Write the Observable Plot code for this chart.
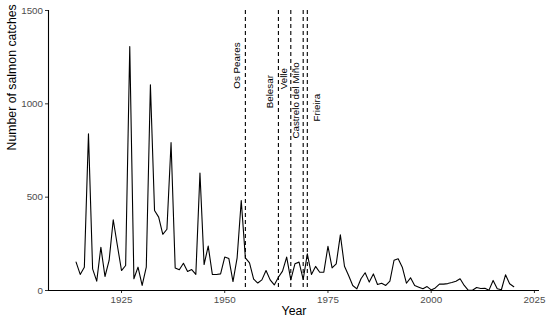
<!DOCTYPE html>
<html>
<head>
<meta charset="utf-8">
<script src="https://cdn.jsdelivr.net/npm/d3@7"></script>
<script src="https://cdn.jsdelivr.net/npm/@observablehq/plot@0.6"></script>
<style>
  html, body { margin: 0; padding: 0; background: #fff; }
  #chart { width: 550px; height: 322px; }
</style>
</head>
<body>
<div id="chart"></div>
<script>
const years = d3.range(1914, 2021);
const catches = [
  152, 86, 125, 839, 116, 50, 232, 75, 161, 379,
  241, 107, 134, 1307, 63, 125, 27, 125, 1102, 429,
  393, 301, 328, 792, 121, 111, 146, 102, 112, 86,
  629, 139, 238, 86, 86, 89, 179, 171, 48, 175,
  482, 175, 148, 61, 40, 57, 107, 57, 30, 71,
  104, 179, 57, 143, 152, 59, 196, 86, 129, 98,
  98, 237, 121, 143, 298, 130, 80, 27, 9, 63,
  95, 45, 89, 32, 39, 27, 50, 162, 170, 125,
  39, 68, 27, 18, 9, 21, 3, 14, 34, 34,
  37, 43, 50, 63, 27, 1, 1, 16, 11, 12,
  2, 54, 9, 4, 84, 36, 20
];
const damNames = ["Os Peares", "Belesar", "Velle", "Castrelo del Miño", "Frieira"];
const damYears = [1955, 1963, 1966, 1969, 1970];
const labelYears = [1953, 1961, 1964.3, 1967.2, 1972.2];
const labelValues = [1205, 1065, 1135, 1018, 980];
const xTicks = [1925, 1950, 1975, 2000, 2025];
const yTicks = [0, 500, 1000, 1500];

const series = years.map((y, i) => ({year: y, catches: catches[i]}));
const dams = damNames.map((n, i) => ({name: n, year: damYears[i], lx: labelYears[i], ly: labelValues[i]}));

const font = "'Liberation Sans', Arial, Helvetica, sans-serif";
const chart = Plot.plot({
  width: 550,
  height: 322,
  marginLeft: 48,
  marginRight: 11,
  marginTop: 10,
  marginBottom: 32,
  style: {fontFamily: font, background: "#fff", overflow: "visible"},
  x: {domain: [1907.32, 2026.23]},
  y: {domain: [0, 1500]},
  marks: [
    Plot.axisX({ticks: xTicks, tickFormat: d => String(d), tickSize: 3, tickPadding: 2.5, fontSize: 9.8, fill: "#4D4D4D", stroke: "#333", label: null}),
    Plot.axisY({ticks: yTicks, tickFormat: d => String(d), tickSize: 3, tickPadding: 2.5, fontSize: 9.8, fill: "#4D4D4D", stroke: "#333", label: null}),
    Plot.ruleY([0], {stroke: "#000", strokeWidth: 1.1}),
    Plot.ruleX([1907.32], {stroke: "#000", strokeWidth: 1.1}),
    Plot.ruleX(dams, {x: "year", stroke: "#000", strokeWidth: 1.1, strokeDasharray: "4,3"}),
    Plot.line(series, {x: "year", y: "catches", stroke: "#000", strokeWidth: 1.1}),
    Plot.text(dams, {x: "lx", y: "ly", text: "name", rotate: -90, fontSize: 9.8, fill: "#000"}),
    Plot.text(["Number of salmon catches"], {frameAnchor: "left", rotate: -90, dx: -36, fontSize: 12.3, fill: "#000"}),
    Plot.text(["Year"], {frameAnchor: "bottom", dy: 24, fontSize: 12.3, fill: "#000"})
  ]
});
document.getElementById("chart").appendChild(chart);
</script>
</body>
</html>
